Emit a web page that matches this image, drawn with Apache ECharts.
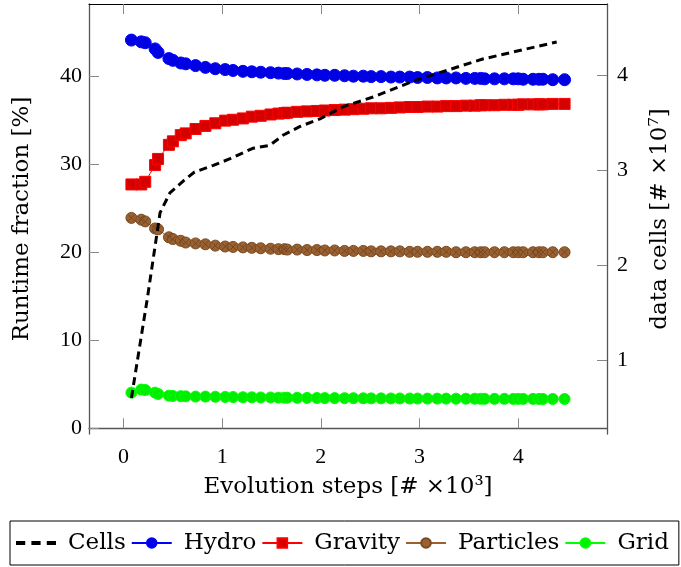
<!DOCTYPE html>
<html>
<head>
<meta charset="utf-8">
<script src="https://cdn.jsdelivr.net/npm/echarts@6/dist/echarts.min.js"></script>
<style>html,body{margin:0;padding:0;background:#fff}#c{width:681px;height:567px}</style>
</head>
<body>
<div id="c"></div>
<script>
const xSteps = [0.08, 0.18, 0.22, 0.32, 0.35, 0.46, 0.50, 0.58, 0.63, 0.73, 0.83, 0.93, 1.03, 1.11, 1.21, 1.30, 1.39, 1.49, 1.57, 1.63, 1.66, 1.76, 1.86, 1.96, 2.04, 2.14, 2.24, 2.33, 2.43, 2.51, 2.61, 2.71, 2.80, 2.90, 2.98, 3.08, 3.18, 3.27, 3.37, 3.47, 3.56, 3.62, 3.66, 3.76, 3.86, 3.95, 4.00, 4.05, 4.15, 4.21, 4.25, 4.35, 4.47];
const hydro = [44.1, 43.9, 43.8, 43.1, 42.7, 42.0, 41.8, 41.5, 41.4, 41.2, 41.0, 40.85, 40.75, 40.65, 40.55, 40.5, 40.45, 40.4, 40.35, 40.3, 40.3, 40.25, 40.2, 40.15, 40.1, 40.1, 40.05, 40.0, 40.0, 39.95, 39.95, 39.9, 39.9, 39.9, 39.85, 39.85, 39.8, 39.8, 39.8, 39.75, 39.75, 39.75, 39.7, 39.7, 39.7, 39.7, 39.7, 39.65, 39.65, 39.65, 39.65, 39.6, 39.6];
const gravity = [27.7, 27.7, 28.0, 29.9, 30.6, 32.2, 32.6, 33.3, 33.5, 34.0, 34.35, 34.65, 34.95, 35.05, 35.2, 35.4, 35.5, 35.65, 35.75, 35.8, 35.85, 35.95, 36.0, 36.05, 36.1, 36.15, 36.2, 36.25, 36.3, 36.35, 36.35, 36.4, 36.45, 36.5, 36.5, 36.55, 36.55, 36.6, 36.6, 36.65, 36.65, 36.7, 36.7, 36.7, 36.75, 36.75, 36.75, 36.8, 36.8, 36.8, 36.8, 36.85, 36.85];
const particles = [23.9, 23.7, 23.5, 22.7, 22.6, 21.7, 21.5, 21.3, 21.1, 21.0, 20.9, 20.75, 20.65, 20.6, 20.55, 20.5, 20.45, 20.4, 20.35, 20.35, 20.3, 20.3, 20.25, 20.25, 20.2, 20.2, 20.15, 20.15, 20.15, 20.1, 20.1, 20.1, 20.1, 20.05, 20.05, 20.05, 20.05, 20.05, 20.0, 20.0, 20.0, 20.0, 20.0, 20.0, 20.0, 20.0, 20.0, 20.0, 20.0, 20.0, 20.0, 20.0, 20.0];
const gridFrac = [4.05, 4.4, 4.35, 4.05, 3.9, 3.7, 3.67, 3.65, 3.63, 3.6, 3.6, 3.58, 3.56, 3.55, 3.53, 3.52, 3.5, 3.5, 3.48, 3.47, 3.47, 3.46, 3.45, 3.44, 3.43, 3.43, 3.42, 3.42, 3.41, 3.4, 3.4, 3.39, 3.39, 3.38, 3.38, 3.37, 3.37, 3.37, 3.36, 3.36, 3.36, 3.35, 3.35, 3.35, 3.35, 3.34, 3.34, 3.34, 3.34, 3.33, 3.33, 3.33, 3.33];
const cellsX = [0.08, 0.24, 0.37, 0.47, 0.61, 0.72, 0.91, 1.08, 1.31, 1.48, 1.62, 1.79, 1.99, 2.23, 2.53, 2.97, 3.64, 4.39];
const cellsY = [0.60, 1.64, 2.55, 2.76, 2.89, 2.98, 3.05, 3.12, 3.23, 3.26, 3.37, 3.46, 3.54, 3.67, 3.77, 3.95, 4.17, 4.35];
const xTicks = [0, 1, 2, 3, 4];
const yLeftTicks = [0, 10, 20, 30, 40];
const yRightTicks = [1, 2, 3, 4];
const names = ['Cells', 'Hydro', 'Gravity', 'Particles', 'Grid'];

function pairs(xs, ys) { return xs.map((x, i) => [x, ys[i]]); }

const tickFont = { fontFamily: 'Liberation Serif', fontSize: 22, color: '#000' };
const nameFont = { fontFamily: 'DejaVu Serif', fontSize: 23, color: '#000' };
const dashIcon = 'path://M0,0h9v4H0z M15,0h9v4h-9z M30,0h9v4h-9z';

const legendData = names.map(n => n === 'Cells' ? { name: n, icon: dashIcon, itemStyle: { color: '#000' } } : { name: n });

const chart = echarts.init(document.getElementById('c'), null, { renderer: 'canvas' });
chart.setOption({
  animation: false,
  backgroundColor: '#fff',
  grid: { left: 89, right: 74, top: 4, bottom: 133, containLabel: false },
  xAxis: [
    {
      type: 'value', position: 'bottom', min: -0.35, max: 4.9,
      axisLine: { show: true, lineStyle: { color: '#555', width: 1.3 } },
      axisTick: { show: true, inside: true, length: 10, customValues: xTicks, lineStyle: { color: '#888' } },
      axisLabel: { show: true, customValues: xTicks, margin: 12, ...tickFont },
      splitLine: { show: false },
      name: 'Evolution steps [# ×10³]', nameLocation: 'middle', nameGap: 42, nameTextStyle: nameFont
    },
    {
      type: 'value', position: 'top', min: -0.35, max: 4.9,
      axisLine: { show: true, onZero: false, lineStyle: { color: '#000', width: 1 } },
      axisTick: { show: true, inside: true, length: 10, customValues: xTicks, lineStyle: { color: '#888' } },
      axisLabel: { show: false },
      splitLine: { show: false }
    }
  ],
  yAxis: [
    {
      type: 'value', position: 'left', min: -0.65, max: 48.2,
      axisLine: { show: true, onZero: false, lineStyle: { color: '#555', width: 1.3 } },
      axisTick: { show: true, inside: true, length: 10, customValues: yLeftTicks, lineStyle: { color: '#888' } },
      axisLabel: { show: true, customValues: yLeftTicks, margin: 7, ...tickFont },
      splitLine: { show: false },
      name: 'Runtime fraction [%]', nameLocation: 'middle', nameGap: 55, nameRotate: 90, nameTextStyle: nameFont
    },
    {
      type: 'value', position: 'right', min: 0.22, max: 4.75,
      axisLine: { show: true, onZero: false, lineStyle: { color: '#555', width: 1.3 } },
      axisTick: { show: true, inside: true, length: 10, customValues: yRightTicks, lineStyle: { color: '#888' } },
      axisLabel: { show: true, customValues: yRightTicks, margin: 10, ...tickFont },
      splitLine: { show: false },
      name: 'data cells [# ×10⁷]', nameLocation: 'middle', nameGap: 42, nameRotate: 90, nameTextStyle: nameFont
    }
  ],
  legend: {
    data: legendData,
    left: 10, top: 521, width: 664,
    orient: 'horizontal',
    padding: [10, 10, 10, 6],
    borderColor: '#000', borderWidth: 1,
    itemWidth: 40, itemHeight: 12, itemGap: 5,
    textStyle: { ...nameFont, padding: [0, 0, 0, 7], lineHeight: 24 }
  },
  series: [
    {
      name: 'Hydro', type: 'line', xAxisIndex: 0, yAxisIndex: 0,
      data: pairs(xSteps, hydro), symbol: 'circle', symbolSize: 12,
      itemStyle: { color: '#0000e0', borderColor: '#0000ff', borderWidth: 1 },
      lineStyle: { color: '#0000ff', width: 1 }, z: 2
    },
    {
      name: 'Gravity', type: 'line', xAxisIndex: 0, yAxisIndex: 0,
      data: pairs(xSteps, gravity), symbol: 'rect', symbolSize: 11,
      itemStyle: { color: '#d50000', borderColor: '#ff0000', borderWidth: 1 },
      lineStyle: { color: '#ff0000', width: 1 }, z: 2
    },
    {
      name: 'Particles', type: 'line', xAxisIndex: 0, yAxisIndex: 0,
      data: pairs(xSteps, particles), symbol: 'circle', symbolSize: 11,
      itemStyle: { color: '#9a6030', borderColor: '#7a4a22', borderWidth: 1 },
      lineStyle: { color: '#9a6030', width: 1 }, z: 2
    },
    {
      name: 'ParticlesX', type: 'scatter', xAxisIndex: 0, yAxisIndex: 0,
      data: pairs(xSteps, particles), symbol: 'path://M0,0L10,10M10,0L0,10', symbolSize: 7,
      itemStyle: { color: 'rgba(0,0,0,0)', borderColor: '#6b4220', borderWidth: 1 },
      silent: true, z: 3
    },
    {
      name: 'Grid', type: 'line', xAxisIndex: 0, yAxisIndex: 0,
      data: pairs(xSteps, gridFrac), symbol: 'circle', symbolSize: 11,
      itemStyle: { color: '#00ee00', borderColor: '#00ff00', borderWidth: 1 },
      lineStyle: { color: '#00ff00', width: 1 }, z: 2
    },
    {
      name: 'Cells', type: 'line', xAxisIndex: 0, yAxisIndex: 1,
      data: pairs(cellsX, cellsY), symbol: 'none',
      itemStyle: { color: '#000' },
      lineStyle: { color: '#000', width: 3, type: [8, 5] }, z: 5
    }
  ]
});
</script>
</body>
</html>
